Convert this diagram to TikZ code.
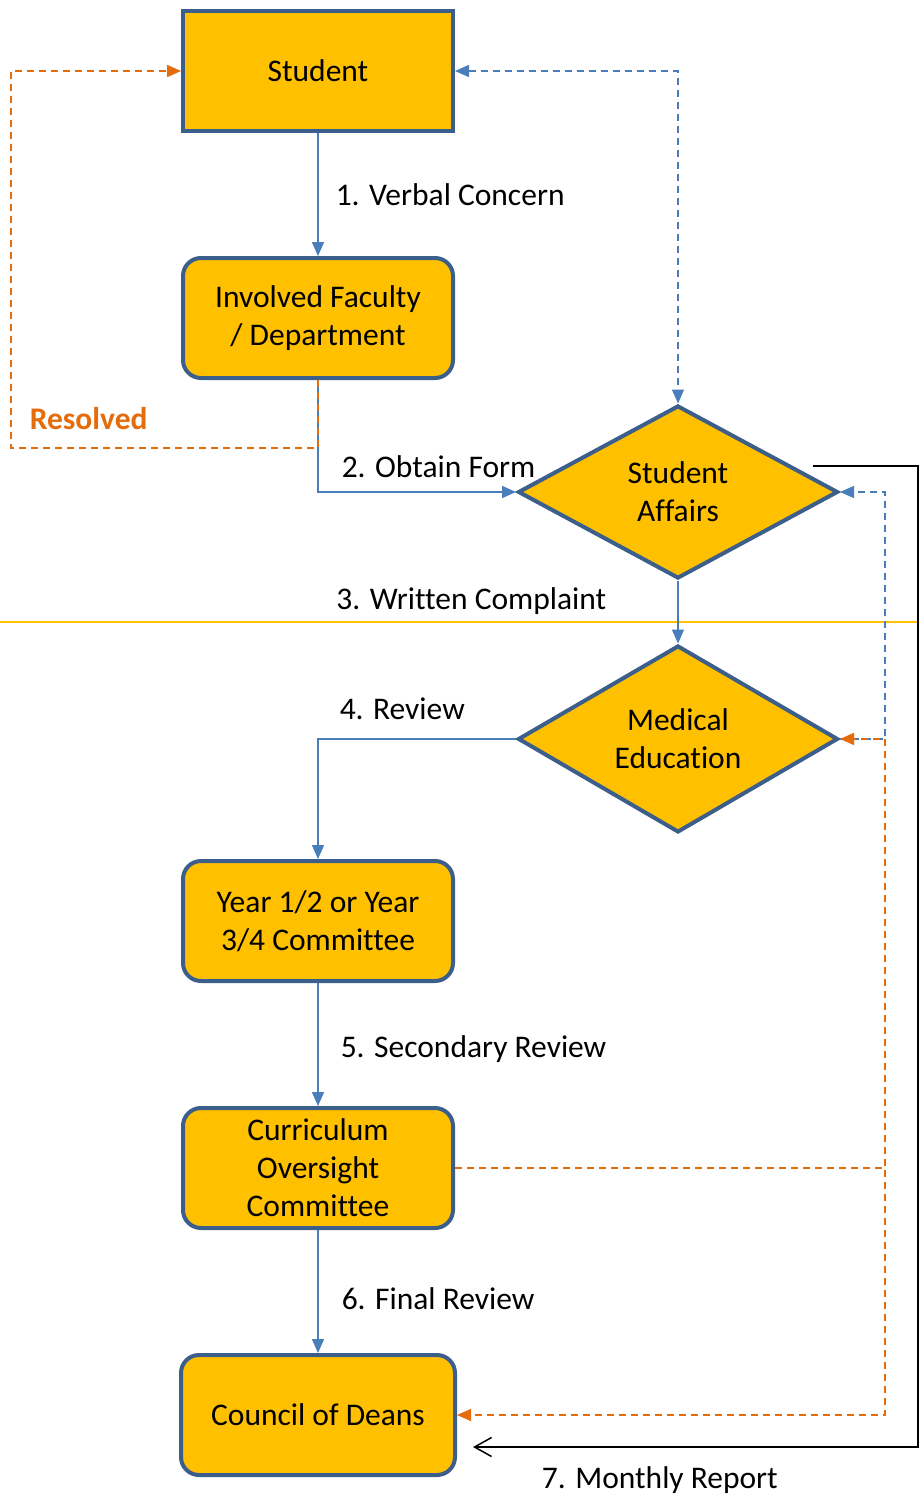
\documentclass[tikz,border=0pt]{standalone}
\usepackage{fontspec}
\setmainfont[Ligatures=NoCommon]{Carlito}
\usepackage{xcolor}
\definecolor{boxgold}{RGB}{255,192,0}
\definecolor{boxblue}{RGB}{59,94,138}
\definecolor{flowblue}{RGB}{74,126,187}
\definecolor{resorange}{RGB}{228,108,10}
\usepackage{tikz}
\usetikzlibrary{positioning}
\usetikzlibrary{arrows.meta}
\usetikzlibrary{shapes,calc}
\tikzset{box node/.style={rectangle,fill=boxgold,draw=boxblue,line width=4pt,minimum width=270pt,minimum height=120pt,align=center,inner sep=0pt},
round node/.style={box node,rounded corners=18pt},
decision node/.style={diamond,fill=boxgold,draw=boxblue,line width=4pt,minimum width=320pt,minimum height=173pt,align=center,inner sep=0pt},}

\begin{document}
\begin{tikzpicture}[x=1pt, y=-1pt, font=\fontsize{31.5}{38}\selectfont,
    flow/.style={draw=flowblue, line width=1.5pt, -{Triangle[length=14pt,width=12pt]}},
    back/.style={flow, dash pattern=on 7pt off 5pt},
    fix/.style={draw=resorange, line width=1.5pt, dash pattern=on 7pt off 5pt, -{Triangle[length=14pt,width=12pt]}, color=resorange},
    report/.style={draw=black, line width=1.5pt, -{Straight Barb[length=17pt,width=19pt]}},
    lbl/.style={inner sep=0pt}]
	\useasboundingbox (0,0) rectangle (919,1494);
	\draw[boxgold, line width=1.5pt] (0,622) -- (919,622);

	\node[box node] (student) at (318,71) {Student};
	\node[round node] (faculty) [below = 123pt of student] {Involved Faculty\\/ Department};
	\node[round node] (year) [below = 479pt of faculty] {Year 1/2 or Year\\3/4 Committee};
	\node[round node] (cur) [below = 123pt of year] {Curriculum\\Oversight\\Committee};
	\node[round node, minimum width=274pt] (council) [below = 123pt of cur] {Council of Deans};
	\node[decision node] (sa) at (678,492) {Student\\Affairs};
	\node[decision node] (med) [below = 63pt of sa] {Medical\\Education};

	\coordinate (rail) at (885,0);
	\coordinate (res) at (11,448);
	\coordinate (rpt start) at (813,466);
	\coordinate (rpt corner) at (918,1447);
	\coordinate (rpt end) at (473,1447);

	% main route
	\path (student.south) edge[flow] node[lbl, anchor=mid west, xshift=17pt, yshift=-9pt] {1. Verbal Concern} (faculty.north);
	\draw[flow] (faculty.south) |- node[lbl, anchor=mid west, xshift=23pt, yshift=17pt] {2. Obtain Form} (sa.west);
	\path (sa.south) edge[flow] node[lbl, anchor=mid east, xshift=-71pt, yshift=5pt] {3. Written Complaint} (med.north);
	\draw[flow] (med.west) -| node[lbl, anchor=mid west, xshift=21pt, yshift=22pt] {4. Review} (year.north);
	\path (year.south) edge[flow] node[lbl, anchor=mid west, xshift=22pt, yshift=-11pt] {5. Secondary Review} (cur.north);
	\path (cur.south) edge[flow] node[lbl, anchor=mid west, xshift=23pt, yshift=-16pt] {6. Final Review} (council.north);

	% dashed returns
	\draw[back, {Triangle[length=14pt,width=12pt]}-{Triangle[length=14pt,width=12pt]}] (student.east) -| (sa.north);
	\draw[back] (med.east) -- (med.east -| rail) |- (sa.east);
	\draw[fix] (faculty.south) |- (res) node[lbl, anchor=mid west, xshift=18pt, yshift=21pt, font=\fontsize{31.5}{38}\selectfont\bfseries] {Resolved} |- (student.west);
	\draw[fix] (cur.east) -- (cur.east -| rail) |- (med.east);
	\draw[fix] (cur.east) -- (cur.east -| rail) |- (council.east);

	% monthly report
	\draw[report] (rpt start) -| (rpt corner) -- node[lbl, pos=0.58, yshift=-33pt] {7. Monthly Report} (rpt end);
\end{tikzpicture}
\end{document}
